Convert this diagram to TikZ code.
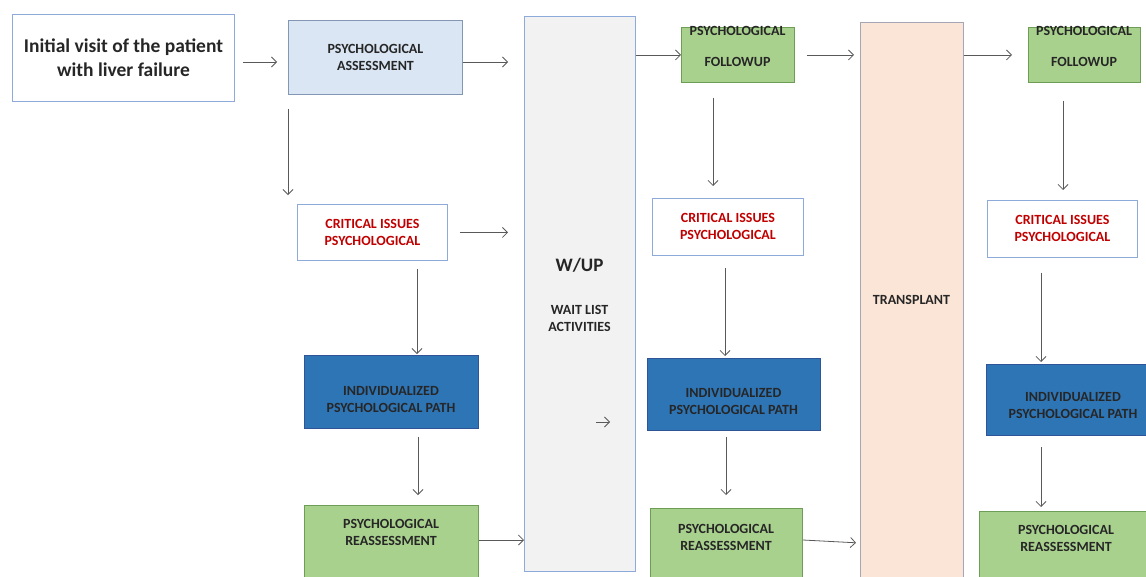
\documentclass[tikz,border=0pt]{standalone}
\usepackage{fontspec}
\setmainfont{Carlito}
\usepackage{tikz}
\usetikzlibrary{arrows.meta}

\definecolor{boxline}{HTML}{8EAADB}
\definecolor{assessfill}{HTML}{DAE6F4}
\definecolor{assessline}{HTML}{8397B4}
\definecolor{pathfill}{HTML}{2E75B6}
\definecolor{pathline}{HTML}{2F5597}
\definecolor{followfill}{HTML}{A9D18E}
\definecolor{followline}{HTML}{6E9E55}
\definecolor{waitfill}{HTML}{F2F2F2}
\definecolor{transfill}{HTML}{FBE5D6}
\definecolor{transline}{HTML}{A5A5B5}
\definecolor{issuered}{HTML}{C00000}
\definecolor{txtdark}{HTML}{262626}
\definecolor{arrgray}{HTML}{595959}

\begin{document}
\begin{tikzpicture}[x=1pt,y=-1pt,
  box/.style={draw=boxline,line width=0.9pt,inner sep=0pt,anchor=north west,align=center,font=\bfseries\fontsize{14}{17}\selectfont,text=txtdark},
  txt/.style={align=center,inner sep=0pt,font=\bfseries\fontsize{14}{17}\selectfont,text=txtdark},
  arr/.style={-{Straight Barb[length=5pt,width=10pt]},draw=arrgray,line width=0.8pt}]
\useasboundingbox (0,0) rectangle (1146,576);
\clip (0,0) rectangle (1146,576);

% first column
\node[box,minimum width=222pt,minimum height=87pt,font=\bfseries\fontsize{19.5}{24}\selectfont] (init) at (12,14) {Initial visit of the patient\\with liver failure};
\node[box,fill=assessfill,draw=assessline,minimum width=174pt,minimum height=74pt] (assess) at (288,20) {PSYCHOLOGICAL\\ASSESSMENT};
\node[box,text=issuered,minimum width=150pt,minimum height=56pt] (issues1) at (297,204) {CRITICAL ISSUES\\PSYCHOLOGICAL};
\node[box,fill=pathfill,draw=pathline,minimum width=174pt,minimum height=73pt] (path1) at (304,355) {};
\node[txt] (path1txt) at (391,399.5) {INDIVIDUALIZED\\PSYCHOLOGICAL PATH};
\node[box,fill=followfill,draw=followline,minimum width=174pt,minimum height=90pt] (reass1) at (304,505) {};
\node[txt] (reass1txt) at (391,532.5) {PSYCHOLOGICAL\\REASSESSMENT};

% wait list
\node[box,fill=waitfill,minimum width=111pt,minimum height=555pt] (wait) at (524,16) {};
\node[txt,font=\bfseries\fontsize{19}{23}\selectfont] (waittitle) at (579.5,265) {W/UP};
\node[txt] (waittxt) at (579.5,318) {WAIT LIST\\ACTIVITIES};

% second column
\node[box,fill=followfill,draw=followline,minimum width=113pt,minimum height=55pt] (follow1) at (681,27) {};
\node[txt] (follow1txt) at (737.5,46.5) {PSYCHOLOGICAL\\[14pt]FOLLOWUP};
\node[box,text=issuered,minimum width=151pt,minimum height=57pt] (issues2) at (652,198) {CRITICAL ISSUES\\PSYCHOLOGICAL};
\node[box,fill=pathfill,draw=pathline,minimum width=173pt,minimum height=72pt] (path2) at (647,358) {};
\node[txt] (path2txt) at (733.5,401.5) {INDIVIDUALIZED\\PSYCHOLOGICAL PATH};
\node[box,fill=followfill,draw=followline,minimum width=152pt,minimum height=90pt] (reass2) at (650,508) {};
\node[txt] (reass2txt) at (726,537.5) {PSYCHOLOGICAL\\REASSESSMENT};

% transplant
\node[box,fill=transfill,draw=transline,minimum width=103pt,minimum height=580pt] (transplant) at (860,22) {};
\node[txt] (transtxt) at (911.5,300) {TRANSPLANT};

% third column
\node[box,fill=followfill,draw=followline,minimum width=112pt,minimum height=55pt] (follow2) at (1028,27) {};
\node[txt] (follow2txt) at (1084,46.5) {PSYCHOLOGICAL\\[14pt]FOLLOWUP};
\node[box,text=issuered,minimum width=150pt,minimum height=57pt] (issues3) at (987,200) {CRITICAL ISSUES\\PSYCHOLOGICAL};
\node[box,fill=pathfill,draw=pathline,minimum width=174pt,minimum height=71pt] (path3) at (986,364) {};
\node[txt] (path3txt) at (1073,406) {INDIVIDUALIZED\\PSYCHOLOGICAL PATH};
\node[box,fill=followfill,draw=followline,minimum width=174pt,minimum height=90pt] (reass3) at (979,511) {};
\node[txt] (reass3txt) at (1066,538.5) {PSYCHOLOGICAL\\REASSESSMENT};

% arrows
\draw[arr,shorten <=8pt,shorten >=11pt] (init.east |- 0,62) -- (assess.west |- 0,62);
\draw[arr,shorten >=16pt] (assess.east |- 0,62) -- (wait.west |- 0,62);
\draw[arr,shorten <=14pt,shorten >=9pt] (assess.south west) -- (assess.south west |- issues1.north);
\draw[arr,shorten <=12pt,shorten >=16pt] (issues1.east) -- (issues1.east -| wait.west);
\draw[arr,shorten <=8pt,shorten >=1pt] (issues1.south -| 417,0) -- (path1.north -| 417,0);
\draw[arr,shorten <=8pt,shorten >=10pt] (path1.south -| 418,0) -- (reass1.north -| 418,0);
\draw[arr] (reass1.east |- 0,540) -- (wait.west |- 0,540);
\draw[arr] (wait.east |- follow1.west) -- (follow1.west);
\draw[arr,shorten <=12pt,shorten >=6pt] (follow1.east) -- (follow1.east -| transplant.west);
\draw[arr,shorten >=16pt] (transplant.east |- follow2.west) -- (follow2.west);
\draw[arr,shorten <=15pt,shorten >=12pt] (follow1.south -| 713,0) -- (issues2.north -| 713,0);
\draw[arr,shorten <=12pt,shorten >=2pt] (issues2.south -| 725,0) -- (path2.north -| 725,0);
\draw[arr,shorten <=6pt,shorten >=13pt] (path2.south -| 726,0) -- (reass2.north -| 726,0);
\draw[arr,shorten >=4pt] (reass2.east |- 0,540) -- (transplant.west |- 0,543);
\draw[arr,shorten <=18pt,shorten >=10pt] (follow2.south -| 1063,0) -- (issues3.north -| 1063,0);
\draw[arr,shorten <=15pt,shorten >=2pt] (issues3.south -| 1041,0) -- (path3.north -| 1041,0);
\draw[arr,shorten <=11pt,shorten >=4pt] (path3.south -| 1041,0) -- (reass3.north -| 1041,0);
\coordinate (waitin) at (596,422);
\coordinate (waitout) at (610,422);
\draw[arr] (waitin) -- (waitout);
\end{tikzpicture}
\end{document}
